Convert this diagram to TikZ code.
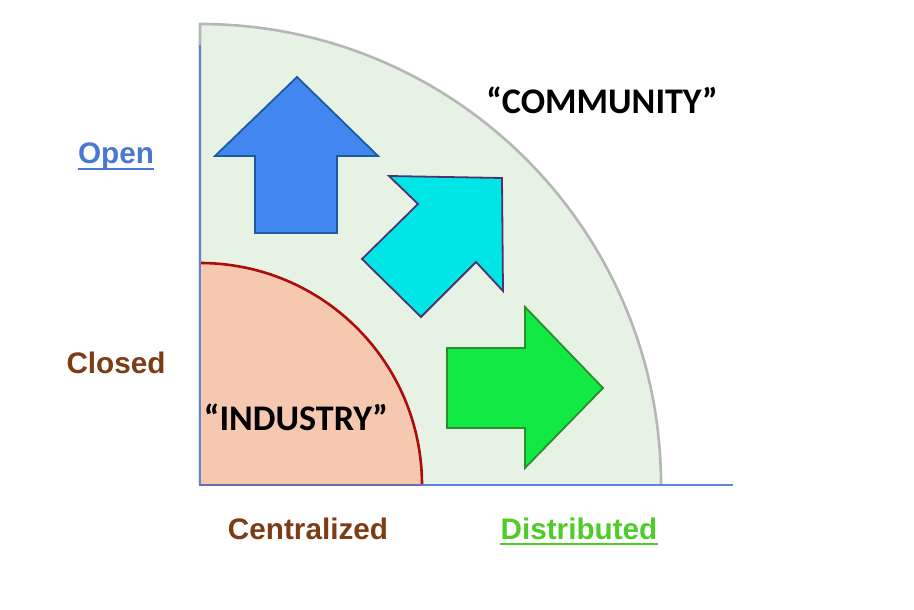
\documentclass[tikz,border=0pt]{standalone}
\usepackage{fontspec}
\setmainfont{Liberation Sans}
\newfontfamily\calibrifont{Carlito}
\definecolor{openblue}{RGB}{72,120,210}
\definecolor{brownlab}{RGB}{124,60,20}
\definecolor{distgreen}{RGB}{78,204,40}
\definecolor{commfill}{RGB}{230,242,228}
\definecolor{commedge}{RGB}{182,182,182}
\definecolor{indfill}{RGB}{247,200,176}
\definecolor{indedge}{RGB}{172,12,12}
\definecolor{axisblue}{RGB}{92,134,212}
\definecolor{edgepurple}{RGB}{112,104,172}
\definecolor{upfill}{RGB}{66,135,240}
\definecolor{upedge}{RGB}{30,90,160}
\definecolor{diagfill}{RGB}{0,230,230}
\definecolor{diagedge}{RGB}{80,50,110}
\definecolor{rightfill}{RGB}{16,234,66}
\definecolor{rightedge}{RGB}{46,140,46}
\tikzset{
  axislab/.style={font=\fontsize{29.8}{32}\selectfont\bfseries, inner sep=0pt, anchor=base},
  quarterlab/.style={font=\calibrifont\fontsize{36.2}{40}\selectfont\bfseries, inner sep=0pt, anchor=base, text=black},
  arrowshape/.style={line width=1.8bp, line join=miter},
}
\begin{document}
\begin{tikzpicture}[x=1bp,y=1bp]
\useasboundingbox (0,0) rectangle (914,610);
% community quarter
\fill[commfill] (200,125) -- (661,125) arc[start angle=0,end angle=90,radius=461] -- cycle;
\draw[commedge, line width=2.6bp] (661,125) arc[start angle=0,end angle=90,radius=461] -- (200,125);
% industry quarter
\fill[indfill] (200,125) -- (422,125) arc[start angle=0,end angle=90,radius=222] -- cycle;
\draw[indedge, line width=2.6bp] (422,125) arc[start angle=0,end angle=90,radius=222];
\draw[edgepurple, line width=2bp] (200,347) -- (200,125) -- (422,125);
% axes
\draw[axisblue, line width=1.6bp] (200,565) -- (200,125);
\draw[axisblue, line width=1.6bp] (422,125) -- (733,125);
% arrows
\draw[arrowshape, fill=upfill, draw=upedge] (297,533) -- (378,454) -- (337,454) -- (337,377) -- (255,377) -- (255,454) -- (215,454) -- cycle;
\draw[arrowshape, fill=diagfill, draw=diagedge] (502,432) -- (389,434) -- (418,406) -- (362,351) -- (421,293) -- (476,348) -- (503,319) -- cycle;
\draw[arrowshape, fill=rightfill, draw=rightedge] (447,262) -- (525,262) -- (525,303) -- (603,222) -- (525,142) -- (525,182) -- (447,182) -- cycle;
% labels
\node[quarterlab] (community) at (602,496) {“COMMUNITY”};
\node[quarterlab] (industry) at (296,179) {“INDUSTRY”};
\node[axislab, text=openblue] (open) at (116,446) {Open};
\draw[openblue, line width=2.4bp] ([yshift=-5bp]open.base west) -- ([yshift=-5bp]open.base east);
\node[axislab, text=brownlab] (closed) at (116,236) {Closed};
\node[axislab, text=brownlab] (central) at (308,70) {Centralized};
\node[axislab, text=distgreen] (distrib) at (579,70) {Distributed};
\draw[distgreen, line width=2.4bp] ([yshift=-4bp]distrib.base west) -- ([yshift=-4bp]distrib.base east);
\end{tikzpicture}
\end{document}
